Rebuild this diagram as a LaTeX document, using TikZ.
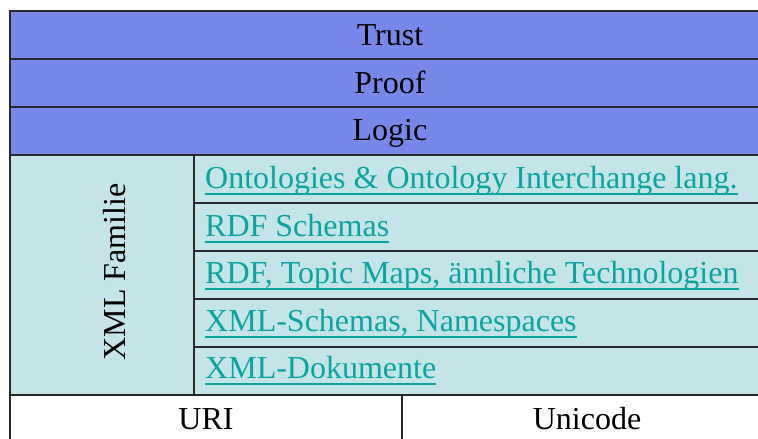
\documentclass[tikz,border=0pt]{standalone}
\usepackage{fontspec}
\setmainfont{Liberation Serif}
\definecolor{layerblue}{HTML}{7888EA}
\definecolor{layerlight}{HTML}{C5E4E8}
\definecolor{linkteal}{HTML}{0AA5A0}
\definecolor{edgegray}{HTML}{2A2A2E}
\tikzset{
  cell/.style={draw=edgegray, line width=1.6pt, anchor=north west, inner sep=0pt, outer sep=0pt},
  bluecell/.style={cell, fill=layerblue},
  lightcell/.style={cell, fill=layerlight},
  whitecell/.style={cell, fill=white},
  label/.style={font=\fontsize{32}{36}\selectfont, text=black, anchor=base, inner sep=0pt},
  link/.style={font=\fontsize{32}{36}\selectfont, text=linkteal, anchor=base west, inner sep=0pt},
  uline/.style={draw=linkteal, line width=1.6pt}
}
\begin{document}
\begin{tikzpicture}[x=1pt,y=-1pt]
\useasboundingbox (0,0) rectangle (758,439);
\clip (0,0) rectangle (758,439);
% blue layers
\node[bluecell, minimum width=780pt, minimum height=48pt] (trust) at (10,11) {};
\node[bluecell, minimum width=780pt, minimum height=48pt] (proof) at (10,59) {};
\node[bluecell, minimum width=780pt, minimum height=48pt] (logic) at (10,107) {};
\node[label] (trustT) at (390,45) {Trust};
\node[label] (proofT) at (390,93) {Proof};
\node[label] (logicT) at (390,140) {Logic};
% XML family
\node[lightcell, minimum width=184pt, minimum height=240pt] (xmlfam) at (10,155) {};
\node[label, rotate=90] (xmlfamT) at (125,272) {XML Familie};
\node[lightcell, minimum width=600pt, minimum height=48pt] (onto) at (194,155) {};
\node[lightcell, minimum width=600pt, minimum height=48pt] (rdfs) at (194,203) {};
\node[lightcell, minimum width=600pt, minimum height=48pt] (rdf) at (194,251) {};
\node[lightcell, minimum width=600pt, minimum height=48pt] (xsd) at (194,299) {};
\node[lightcell, minimum width=600pt, minimum height=48pt] (xmld) at (194,347) {};
\node[link] (ontoT) at (205,188) {Ontologies \& Ontology Interchange lang.};
\node[link] (rdfsT) at (205,236) {RDF Schemas};
\node[link] (rdfT) at (205,283) {RDF, Topic Maps, ännliche Technologien};
\node[link] (xsdT) at (205,331) {XML-Schemas, Namespaces};
\node[link] (xmldT) at (205,378) {XML-Dokumente};
\foreach \t in {ontoT,rdfsT,rdfT,xsdT,xmldT}
  \draw[uline] ([yshift=-6pt]\t.base west) -- ([yshift=-6pt]\t.base east);
% URI / Unicode
\node[whitecell, minimum width=392pt, minimum height=60pt] (uri) at (10,395) {};
\node[whitecell, minimum width=400pt, minimum height=60pt] (uni) at (402,395) {};
\node[label] (uriT) at (206,429) {URI};
\node[label] (uniT) at (587,429) {Unicode};
\end{tikzpicture}
\end{document}
